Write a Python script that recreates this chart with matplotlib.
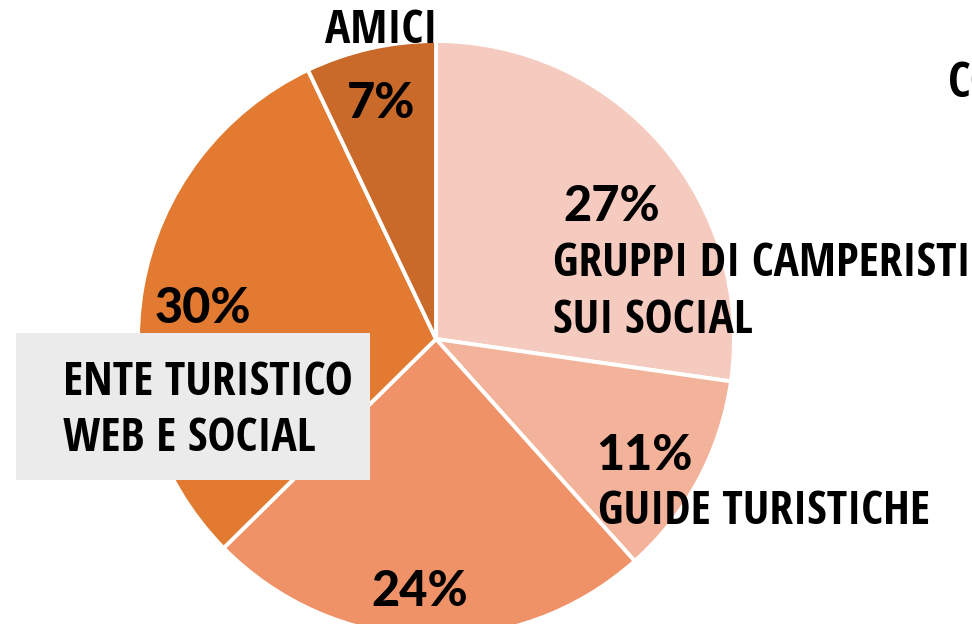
import matplotlib
matplotlib.use('Agg')
import matplotlib.pyplot as plt
from matplotlib.patches import Rectangle

W, H = 972, 624

# slices, clockwise from 12 o'clock
categories = ['GRUPPI DI CAMPERISTI\nSUI SOCIAL', 'GUIDE TURISTICHE', '',
              'ENTE TURISTICO\nWEB E SOCIAL', 'AMICI']
values = [27, 11, 24, 30, 7]
pct_labels = ['27%', '11%', '24%', '30%', '7%']
colors = ['#F5CBBF', '#F3B29A', '#F09268', '#E27A31', '#C96A2B']

def Y(y):
    # image rows -> data y (axis goes up)
    return H - y

fig = plt.figure(figsize=(W / 100, H / 100), dpi=100)
ax = fig.add_axes([0, 0, 1, 1])

ax.pie(values, colors=colors, startangle=90, counterclock=False,
       center=(436, Y(339)), radius=298,
       wedgeprops=dict(edgecolor='white', linewidth=2.8))
ax.set_xlim(0, W)
ax.set_ylim(0, H)
ax.axis('off')

lab_font = dict(family=['Open Sans Condensed', 'DejaVu Sans'], fontweight='bold',
                fontsize=34, color='black')
pct_font = dict(family=['Lato', 'DejaVu Sans'], fontweight='black',
                fontsize=35, color='black')

# percentages (center x, center row)
pct_pos = [(612, 203), (644, 452), (420, 588), (203, 305), (381, 100)]
for txt, (x, y) in zip(pct_labels, pct_pos):
    ax.text(x, Y(y + 18), txt, ha='center', va='baseline', zorder=5, **pct_font)

# grey box behind the ente label
ax.add_patch(Rectangle((16, Y(480)), 354, 147, facecolor='#EBEBEB',
                       edgecolor='none', zorder=4))

lines = [
    ('AMICI', 381, 26, 'center'),
    ('GRUPPI DI CAMPERISTI', 553, 259, 'left'),
    ('SUI SOCIAL', 553, 316, 'left'),
    ('GUIDE TURISTICHE', 598, 507, 'left'),
    ('ENTE TURISTICO', 63, 378, 'left'),
    ('WEB E SOCIAL', 63, 434, 'left'),
]
for txt, x, y, ha in lines:
    ax.text(x, Y(y + 17), txt, ha=ha, va='baseline', zorder=6, **lab_font)

# title cut off at the right edge
ax.text(948, Y(80 + 17), 'CO', ha='left', va='baseline', zorder=6,
        family=['Open Sans Condensed', 'DejaVu Sans'], fontweight='bold',
        fontsize=35, color='black')

fig.savefig('out.png', dpi=100)
